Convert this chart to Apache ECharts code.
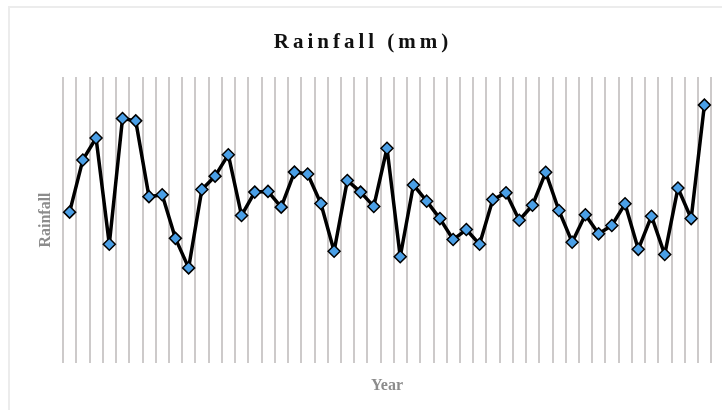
<!DOCTYPE html>
<html>
<head>
<meta charset="utf-8">
<script src="https://cdn.jsdelivr.net/npm/echarts@6/dist/echarts.min.js"></script>
<style>
  html, body { margin: 0; padding: 0; background: #ffffff; }
  #chart { width: 722px; height: 410px; }
</style>
</head>
<body>
<div id="chart"></div>
<script>
// Years on the horizontal axis (labels hidden, one column each)
const years = [];
for (let y = 1970; y <= 2018; y++) years.push(String(y));

// Annual rainfall, mm
const rainfall = [
  633, 852, 944, 498, 1026, 1016, 698, 706, 523, 399,
  728, 784, 874, 619, 717, 720, 654, 801, 793, 669,
  469, 766, 717, 657, 901, 446, 747, 679, 606, 518,
  560, 498, 686, 714, 599, 662, 800, 640, 507, 622,
  542, 577, 668, 477, 616, 455, 734, 606, 1082
];

const titleText = 'Rainfall (mm)';
// each letter as its own rich fragment so the heading can be tracked out
const spacedTitle = titleText.split('').map(function (c) { return '{s|' + c + '}'; }).join('');

const chart = echarts.init(document.getElementById('chart'), null, { renderer: 'canvas' });

chart.setOption({
  backgroundColor: '#ffffff',
  animation: false,
  title: {
    text: spacedTitle,
    left: 'center',
    top: 27,
    textStyle: {
      fontFamily: 'Liberation Serif',
      fontWeight: 'bold',
      fontSize: 21,
      color: '#111111',
      rich: {
        s: {
          fontFamily: 'Liberation Serif',
          fontWeight: 'bold',
          fontSize: 21,
          color: '#111111',
          padding: [0, 2, 0, 2]
        }
      }
    }
  },
  graphic: [{
    type: 'rect',
    shape: { x: 9, y: 7, width: 730, height: 420 },
    style: { fill: 'none', stroke: '#ececec', lineWidth: 2 },
    silent: true
  }],
  grid: { left: 63, right: 11, top: 77, bottom: 47 },
  xAxis: {
    type: 'category',
    data: years,
    boundaryGap: true,
    name: 'Year',
    nameLocation: 'middle',
    nameGap: 15,
    nameTextStyle: {
      fontFamily: 'Liberation Serif',
      fontWeight: 'bold',
      fontSize: 16,
      color: '#8c8c8c'
    },
    axisLine: { show: false },
    axisTick: { show: false },
    axisLabel: { show: false },
    splitLine: {
      show: true,
      interval: 0,
      lineStyle: { color: '#bcb8b8', width: 1.5 }
    }
  },
  yAxis: {
    type: 'value',
    min: 0,
    max: 1200,
    name: 'Rainfall',
    nameLocation: 'middle',
    nameGap: 9,
    nameTextStyle: {
      fontFamily: 'Liberation Serif',
      fontWeight: 'bold',
      fontSize: 16,
      color: '#8c8c8c'
    },
    axisLine: { show: false },
    axisTick: { show: false },
    axisLabel: { show: false },
    splitLine: { show: false }
  },
  series: [{
    type: 'line',
    data: rainfall,
    symbol: 'diamond',
    symbolSize: 12,
    showAllSymbol: true,
    lineStyle: { color: '#000000', width: 3.5 },
    itemStyle: { color: '#4a9fe6', borderColor: '#000000', borderWidth: 1.5 },
    z: 3
  }]
});
</script>
</body>
</html>
